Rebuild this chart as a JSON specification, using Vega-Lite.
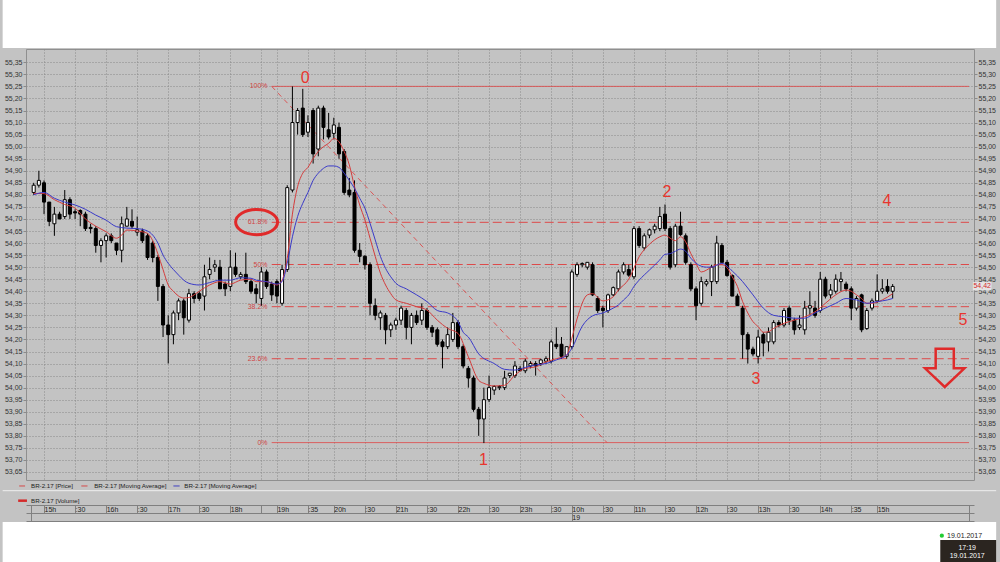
{
"$schema": "https://vega.github.io/schema/vega-lite/v6.json",
"width": 948, "height": 431,
"padding": {"left": 26, "top": 49, "right": 26, "bottom": 82},
"autosize": {"type": "none"},
"background": "#c3c3c3",
"config": {"view": {"stroke": "#8f8f8f", "strokeWidth": 1}, "text": {"font": "Liberation Sans"}, "axis": {"labelFont": "Liberation Sans", "title": null}},
"resolve": {"axis": {"x": "independent", "y": "independent"}},
"datasets": {
"candles": [
{"i":0,"o":54.81,"h":54.85,"l":54.80,"c":54.84},{"i":1,"o":54.84,"h":54.90,"l":54.83,"c":54.86},{"i":2,"o":54.85,"h":54.86,"l":54.72,"c":54.77},{"i":3,"o":54.77,"h":54.77,"l":54.67,"c":54.69},{"i":4,"o":54.68,"h":54.75,"l":54.63,"c":54.72},{"i":5,"o":54.72,"h":54.73,"l":54.70,"c":54.70},{"i":6,"o":54.71,"h":54.82,"l":54.70,"c":54.78},{"i":7,"o":54.78,"h":54.79,"l":54.70,"c":54.72},{"i":8,"o":54.73,"h":54.74,"l":54.70,"c":54.725},{"i":9,"o":54.735,"h":54.74,"l":54.67,"c":54.72},
{"i":10,"o":54.72,"h":54.73,"l":54.65,"c":54.66},{"i":11,"o":54.665,"h":54.68,"l":54.64,"c":54.66},{"i":12,"o":54.66,"h":54.67,"l":54.56,"c":54.59},{"i":13,"o":54.59,"h":54.62,"l":54.52,"c":54.61},{"i":14,"o":54.61,"h":54.64,"l":54.54,"c":54.63},{"i":15,"o":54.63,"h":54.64,"l":54.60,"c":54.61},{"i":16,"o":54.60,"h":54.60,"l":54.55,"c":54.57},{"i":17,"o":54.57,"h":54.71,"l":54.52,"c":54.68},{"i":18,"o":54.67,"h":54.75,"l":54.67,"c":54.70},{"i":19,"o":54.69,"h":54.74,"l":54.66,"c":54.67},
{"i":20,"o":54.645,"h":54.71,"l":54.63,"c":54.655},{"i":21,"o":54.65,"h":54.66,"l":54.60,"c":54.61},{"i":22,"o":54.63,"h":54.64,"l":54.53,"c":54.54},{"i":23,"o":54.60,"h":54.61,"l":54.52,"c":54.54},{"i":24,"o":54.54,"h":54.55,"l":54.36,"c":54.42},{"i":25,"o":54.42,"h":54.43,"l":54.21,"c":54.26},{"i":26,"o":54.26,"h":54.30,"l":54.10,"c":54.22},{"i":27,"o":54.22,"h":54.32,"l":54.18,"c":54.31},{"i":28,"o":54.31,"h":54.37,"l":54.28,"c":54.36},{"i":29,"o":54.36,"h":54.37,"l":54.22,"c":54.29},
{"i":30,"o":54.28,"h":54.41,"l":54.27,"c":54.39},{"i":31,"o":54.39,"h":54.40,"l":54.35,"c":54.37},{"i":32,"o":54.39,"h":54.40,"l":54.36,"c":54.37},{"i":33,"o":54.38,"h":54.51,"l":54.32,"c":54.46},{"i":34,"o":54.47,"h":54.54,"l":54.45,"c":54.49},{"i":35,"o":54.50,"h":54.53,"l":54.48,"c":54.51},{"i":36,"o":54.50,"h":54.53,"l":54.41,"c":54.41},{"i":37,"o":54.43,"h":54.44,"l":54.38,"c":54.41},{"i":38,"o":54.42,"h":54.57,"l":54.40,"c":54.50},{"i":39,"o":54.50,"h":54.56,"l":54.46,"c":54.47},
{"i":40,"o":54.46,"h":54.48,"l":54.45,"c":54.47},{"i":41,"o":54.47,"h":54.56,"l":54.43,"c":54.44},{"i":42,"o":54.44,"h":54.45,"l":54.39,"c":54.40},{"i":43,"o":54.41,"h":54.43,"l":54.35,"c":54.39},{"i":44,"o":54.37,"h":54.50,"l":54.34,"c":54.48},{"i":45,"o":54.48,"h":54.49,"l":54.41,"c":54.42},{"i":46,"o":54.43,"h":54.44,"l":54.36,"c":54.385},{"i":47,"o":54.44,"h":54.45,"l":54.35,"c":54.38},{"i":48,"o":54.35,"h":54.51,"l":54.34,"c":54.49},{"i":49,"o":54.49,"h":54.84,"l":54.48,"c":54.83},
{"i":50,"o":54.82,"h":55.25,"l":54.81,"c":55.10},{"i":51,"o":55.10,"h":55.16,"l":55.05,"c":55.15},{"i":52,"o":55.16,"h":55.24,"l":55.04,"c":55.05},{"i":53,"o":55.06,"h":55.13,"l":55.04,"c":55.10},{"i":54,"o":55.15,"h":55.16,"l":54.93,"c":54.97},{"i":55,"o":54.99,"h":55.17,"l":54.96,"c":55.16},{"i":56,"o":55.16,"h":55.17,"l":55.03,"c":55.08},{"i":57,"o":55.07,"h":55.14,"l":55.03,"c":55.04},{"i":58,"o":55.055,"h":55.12,"l":55.03,"c":55.09},{"i":59,"o":55.08,"h":55.10,"l":54.95,"c":54.97},
{"i":60,"o":54.98,"h":54.99,"l":54.80,"c":54.81},{"i":61,"o":54.82,"h":54.87,"l":54.79,"c":54.80},{"i":62,"o":54.81,"h":54.86,"l":54.56,"c":54.57},{"i":63,"o":54.57,"h":54.60,"l":54.52,"c":54.545},{"i":64,"o":54.545,"h":54.55,"l":54.49,"c":54.51},{"i":65,"o":54.51,"h":54.52,"l":54.30,"c":54.35},{"i":66,"o":54.34,"h":54.37,"l":54.28,"c":54.30},{"i":67,"o":54.29,"h":54.32,"l":54.24,"c":54.31},{"i":68,"o":54.30,"h":54.31,"l":54.18,"c":54.24},{"i":69,"o":54.24,"h":54.27,"l":54.21,"c":54.26},
{"i":70,"o":54.26,"h":54.29,"l":54.24,"c":54.28},{"i":71,"o":54.28,"h":54.34,"l":54.26,"c":54.33},{"i":72,"o":54.32,"h":54.33,"l":54.20,"c":54.25},{"i":73,"o":54.25,"h":54.31,"l":54.18,"c":54.30},{"i":74,"o":54.30,"h":54.32,"l":54.26,"c":54.27},{"i":75,"o":54.28,"h":54.35,"l":54.26,"c":54.32},{"i":76,"o":54.32,"h":54.33,"l":54.24,"c":54.25},{"i":77,"o":54.25,"h":54.26,"l":54.21,"c":54.23},{"i":78,"o":54.24,"h":54.25,"l":54.17,"c":54.18},{"i":79,"o":54.19,"h":54.20,"l":54.08,"c":54.17},
{"i":80,"o":54.17,"h":54.25,"l":54.16,"c":54.22},{"i":81,"o":54.20,"h":54.31,"l":54.19,"c":54.27},{"i":82,"o":54.27,"h":54.28,"l":54.16,"c":54.17},{"i":83,"o":54.17,"h":54.18,"l":54.08,"c":54.09},{"i":84,"o":54.08,"h":54.09,"l":54.00,"c":54.04},{"i":85,"o":54.04,"h":54.05,"l":53.90,"c":53.91},{"i":86,"o":53.91,"h":53.92,"l":53.80,"c":53.87},{"i":87,"o":53.87,"h":54.00,"l":53.77,"c":53.95},{"i":88,"o":53.95,"h":54.05,"l":53.94,"c":54.00},{"i":89,"o":53.99,"h":54.01,"l":53.97,"c":54.005},
{"i":90,"o":54.00,"h":54.01,"l":53.99,"c":54.005},{"i":91,"o":54.00,"h":54.07,"l":53.99,"c":54.04},{"i":92,"o":54.05,"h":54.06,"l":54.04,"c":54.06},{"i":93,"o":54.05,"h":54.11,"l":54.04,"c":54.09},{"i":94,"o":54.08,"h":54.09,"l":54.07,"c":54.07},{"i":95,"o":54.07,"h":54.12,"l":54.06,"c":54.11},{"i":96,"o":54.09,"h":54.11,"l":54.08,"c":54.10},{"i":97,"o":54.10,"h":54.11,"l":54.05,"c":54.09},{"i":98,"o":54.10,"h":54.12,"l":54.09,"c":54.115},{"i":99,"o":54.11,"h":54.13,"l":54.10,"c":54.12},
{"i":100,"o":54.11,"h":54.20,"l":54.10,"c":54.19},{"i":101,"o":54.18,"h":54.25,"l":54.16,"c":54.17},{"i":102,"o":54.18,"h":54.21,"l":54.12,"c":54.13},{"i":103,"o":54.13,"h":54.17,"l":54.12,"c":54.17},{"i":104,"o":54.17,"h":54.49,"l":54.16,"c":54.48},{"i":105,"o":54.47,"h":54.52,"l":54.46,"c":54.51},{"i":106,"o":54.51,"h":54.52,"l":54.50,"c":54.515},{"i":107,"o":54.50,"h":54.52,"l":54.49,"c":54.52},{"i":108,"o":54.51,"h":54.52,"l":54.38,"c":54.385},{"i":109,"o":54.37,"h":54.38,"l":54.31,"c":54.32},
{"i":110,"o":54.33,"h":54.34,"l":54.25,"c":54.32},{"i":111,"o":54.32,"h":54.39,"l":54.31,"c":54.385},{"i":112,"o":54.385,"h":54.42,"l":54.38,"c":54.415},{"i":113,"o":54.41,"h":54.49,"l":54.40,"c":54.48},{"i":114,"o":54.48,"h":54.52,"l":54.47,"c":54.51},{"i":115,"o":54.49,"h":54.51,"l":54.46,"c":54.467},{"i":116,"o":54.46,"h":54.67,"l":54.45,"c":54.66},{"i":117,"o":54.66,"h":54.67,"l":54.58,"c":54.59},{"i":118,"o":54.58,"h":54.64,"l":54.57,"c":54.63},{"i":119,"o":54.633,"h":54.66,"l":54.62,"c":54.655},
{"i":120,"o":54.655,"h":54.68,"l":54.64,"c":54.67},{"i":121,"o":54.66,"h":54.75,"l":54.65,"c":54.71},{"i":122,"o":54.72,"h":54.76,"l":54.65,"c":54.66},{"i":123,"o":54.66,"h":54.67,"l":54.49,"c":54.50},{"i":124,"o":54.51,"h":54.68,"l":54.50,"c":54.67},{"i":125,"o":54.67,"h":54.73,"l":54.63,"c":54.635},{"i":126,"o":54.63,"h":54.64,"l":54.51,"c":54.52},{"i":127,"o":54.51,"h":54.52,"l":54.40,"c":54.41},{"i":128,"o":54.41,"h":54.42,"l":54.28,"c":54.34},{"i":129,"o":54.35,"h":54.46,"l":54.34,"c":54.44},
{"i":130,"o":54.43,"h":54.45,"l":54.42,"c":54.44},{"i":131,"o":54.44,"h":54.51,"l":54.38,"c":54.50},{"i":132,"o":54.44,"h":54.63,"l":54.43,"c":54.60},{"i":133,"o":54.59,"h":54.60,"l":54.52,"c":54.52},{"i":134,"o":54.52,"h":54.53,"l":54.46,"c":54.465},{"i":135,"o":54.465,"h":54.47,"l":54.38,"c":54.38},{"i":136,"o":54.38,"h":54.39,"l":54.34,"c":54.34},{"i":137,"o":54.33,"h":54.34,"l":54.12,"c":54.22},{"i":138,"o":54.22,"h":54.23,"l":54.10,"c":54.16},{"i":139,"o":54.16,"h":54.17,"l":54.13,"c":54.14},
{"i":140,"o":54.13,"h":54.24,"l":54.10,"c":54.21},{"i":141,"o":54.22,"h":54.23,"l":54.13,"c":54.185},{"i":142,"o":54.19,"h":54.25,"l":54.15,"c":54.23},{"i":143,"o":54.19,"h":54.28,"l":54.18,"c":54.27},{"i":144,"o":54.27,"h":54.28,"l":54.25,"c":54.26},{"i":145,"o":54.26,"h":54.33,"l":54.25,"c":54.32},{"i":146,"o":54.33,"h":54.34,"l":54.26,"c":54.28},{"i":147,"o":54.28,"h":54.29,"l":54.22,"c":54.24},{"i":148,"o":54.25,"h":54.30,"l":54.24,"c":54.26},{"i":149,"o":54.24,"h":54.36,"l":54.22,"c":54.33},
{"i":150,"o":54.33,"h":54.40,"l":54.30,"c":54.34},{"i":151,"o":54.33,"h":54.36,"l":54.29,"c":54.30},{"i":152,"o":54.32,"h":54.48,"l":54.31,"c":54.45},{"i":153,"o":54.45,"h":54.46,"l":54.37,"c":54.38},{"i":154,"o":54.385,"h":54.43,"l":54.37,"c":54.405},{"i":155,"o":54.40,"h":54.47,"l":54.39,"c":54.45},{"i":156,"o":54.44,"h":54.48,"l":54.40,"c":54.45},{"i":157,"o":54.43,"h":54.44,"l":54.40,"c":54.41},{"i":158,"o":54.41,"h":54.42,"l":54.28,"c":54.33},{"i":159,"o":54.33,"h":54.38,"l":54.32,"c":54.37},
{"i":160,"o":54.385,"h":54.39,"l":54.23,"c":54.24},{"i":161,"o":54.245,"h":54.33,"l":54.24,"c":54.32},{"i":162,"o":54.33,"h":54.37,"l":54.32,"c":54.36},{"i":163,"o":54.36,"h":54.47,"l":54.35,"c":54.40},{"i":164,"o":54.40,"h":54.45,"l":54.39,"c":54.41},{"i":165,"o":54.42,"h":54.45,"l":54.39,"c":54.40},{"i":166,"o":54.40,"h":54.43,"l":54.37,"c":54.42}
],
"ma": [
{"s":"fast","i":0,"v":54.806},{"s":"fast","i":2,"v":54.805},{"s":"fast","i":4,"v":54.78},{"s":"fast","i":6,"v":54.76},{"s":"fast","i":8,"v":54.745},{"s":"fast","i":10,"v":54.70},{"s":"fast","i":12,"v":54.67},{"s":"fast","i":14,"v":54.647},{"s":"fast","i":16,"v":54.62},{"s":"fast","i":17,"v":54.633},{"s":"fast","i":18,"v":54.654},{"s":"fast","i":20,"v":54.65},{"s":"fast","i":22,"v":54.64},{"s":"fast","i":23,"v":54.61},{"s":"fast","i":24,"v":54.555},{"s":"fast","i":25,"v":54.49},{"s":"fast","i":26,"v":54.426},{"s":"fast","i":27,"v":54.40},{"s":"fast","i":28,"v":54.38},{"s":"fast","i":29,"v":54.372},{"s":"fast","i":30,"v":54.374},{"s":"fast","i":31,"v":54.385},{"s":"fast","i":32,"v":54.40},{"s":"fast","i":34,"v":54.426},{"s":"fast","i":36,"v":54.44},{"s":"fast","i":38,"v":54.43},{"s":"fast","i":40,"v":54.446},{"s":"fast","i":42,"v":54.45},{"s":"fast","i":43,"v":54.44},{"s":"fast","i":45,"v":54.44},{"s":"fast","i":47,"v":54.426},{"s":"fast","i":48,"v":54.446},{"s":"fast","i":49,"v":54.537},{"s":"fast","i":50,"v":54.72},{"s":"fast","i":51,"v":54.834},{"s":"fast","i":52,"v":54.89},{"s":"fast","i":53,"v":54.914},{"s":"fast","i":54,"v":54.95},{"s":"fast","i":55,"v":54.98},{"s":"fast","i":56,"v":55.0},{"s":"fast","i":57,"v":55.014},{"s":"fast","i":58,"v":55.034},{"s":"fast","i":59,"v":55.02},{"s":"fast","i":60,"v":54.98},{"s":"fast","i":61,"v":54.924},{"s":"fast","i":62,"v":54.834},{"s":"fast","i":63,"v":54.758},{"s":"fast","i":64,"v":54.696},{"s":"fast","i":65,"v":54.62},{"s":"fast","i":66,"v":54.545},{"s":"fast","i":67,"v":54.475},{"s":"fast","i":68,"v":54.426},{"s":"fast","i":69,"v":54.39},{"s":"fast","i":70,"v":54.364},{"s":"fast","i":72,"v":54.35},{"s":"fast","i":74,"v":54.336},{"s":"fast","i":76,"v":54.322},{"s":"fast","i":78,"v":54.28},{"s":"fast","i":80,"v":54.246},{"s":"fast","i":82,"v":54.225},{"s":"fast","i":84,"v":54.128},{"s":"fast","i":86,"v":54.03},{"s":"fast","i":87,"v":54.018},{"s":"fast","i":89,"v":54.007},{"s":"fast","i":91,"v":54.01},{"s":"fast","i":93,"v":54.052},{"s":"fast","i":95,"v":54.08},{"s":"fast","i":97,"v":54.086},{"s":"fast","i":99,"v":54.107},{"s":"fast","i":101,"v":54.12},{"s":"fast","i":103,"v":54.135},{"s":"fast","i":104,"v":54.205},{"s":"fast","i":105,"v":54.285},{"s":"fast","i":107,"v":54.385},{"s":"fast","i":108,"v":54.39},{"s":"fast","i":110,"v":54.36},{"s":"fast","i":112,"v":54.377},{"s":"fast","i":113,"v":54.405},{"s":"fast","i":115,"v":54.45},{"s":"fast","i":117,"v":54.543},{"s":"fast","i":119,"v":54.595},{"s":"fast","i":121,"v":54.626},{"s":"fast","i":122,"v":54.633},{"s":"fast","i":123,"v":54.62},{"s":"fast","i":124,"v":54.61},{"s":"fast","i":125,"v":54.626},{"s":"fast","i":126,"v":54.605},{"s":"fast","i":127,"v":54.556},{"s":"fast","i":128,"v":54.516},{"s":"fast","i":129,"v":54.48},{"s":"fast","i":131,"v":54.50},{"s":"fast","i":132,"v":54.51},{"s":"fast","i":133,"v":54.51},{"s":"fast","i":134,"v":54.498},{"s":"fast","i":135,"v":54.46},{"s":"fast","i":136,"v":54.42},{"s":"fast","i":137,"v":54.357},{"s":"fast","i":138,"v":54.31},{"s":"fast","i":139,"v":54.274},{"s":"fast","i":140,"v":54.253},{"s":"fast","i":141,"v":54.23},{"s":"fast","i":142,"v":54.232},{"s":"fast","i":143,"v":54.246},{"s":"fast","i":145,"v":54.267},{"s":"fast","i":147,"v":54.28},{"s":"fast","i":149,"v":54.294},{"s":"fast","i":151,"v":54.315},{"s":"fast","i":153,"v":54.35},{"s":"fast","i":155,"v":54.385},{"s":"fast","i":157,"v":54.405},{"s":"fast","i":158,"v":54.40},{"s":"fast","i":159,"v":54.385},{"s":"fast","i":160,"v":54.37},{"s":"fast","i":161,"v":54.35},{"s":"fast","i":162,"v":54.35},{"s":"fast","i":164,"v":54.364},{"s":"fast","i":166,"v":54.39},
{"s":"slow","i":0,"v":54.80},{"s":"slow","i":2,"v":54.81},{"s":"slow","i":4,"v":54.786},{"s":"slow","i":6,"v":54.77},{"s":"slow","i":8,"v":54.758},{"s":"slow","i":10,"v":54.74},{"s":"slow","i":12,"v":54.716},{"s":"slow","i":14,"v":54.695},{"s":"slow","i":16,"v":54.668},{"s":"slow","i":18,"v":54.662},{"s":"slow","i":20,"v":54.66},{"s":"slow","i":22,"v":54.65},{"s":"slow","i":23,"v":54.633},{"s":"slow","i":24,"v":54.60},{"s":"slow","i":25,"v":54.55},{"s":"slow","i":26,"v":54.516},{"s":"slow","i":27,"v":54.49},{"s":"slow","i":28,"v":54.467},{"s":"slow","i":29,"v":54.446},{"s":"slow","i":30,"v":54.433},{"s":"slow","i":32,"v":54.426},{"s":"slow","i":34,"v":54.436},{"s":"slow","i":36,"v":54.446},{"s":"slow","i":38,"v":54.446},{"s":"slow","i":40,"v":54.456},{"s":"slow","i":42,"v":54.454},{"s":"slow","i":43,"v":54.446},{"s":"slow","i":45,"v":54.44},{"s":"slow","i":47,"v":54.43},{"s":"slow","i":48,"v":54.44},{"s":"slow","i":49,"v":54.516},{"s":"slow","i":50,"v":54.626},{"s":"slow","i":51,"v":54.71},{"s":"slow","i":52,"v":54.765},{"s":"slow","i":53,"v":54.81},{"s":"slow","i":54,"v":54.86},{"s":"slow","i":55,"v":54.89},{"s":"slow","i":56,"v":54.91},{"s":"slow","i":57,"v":54.92},{"s":"slow","i":58,"v":54.92},{"s":"slow","i":59,"v":54.914},{"s":"slow","i":60,"v":54.89},{"s":"slow","i":61,"v":54.86},{"s":"slow","i":62,"v":54.827},{"s":"slow","i":63,"v":54.786},{"s":"slow","i":64,"v":54.745},{"s":"slow","i":65,"v":54.682},{"s":"slow","i":66,"v":54.613},{"s":"slow","i":67,"v":54.545},{"s":"slow","i":68,"v":54.495},{"s":"slow","i":69,"v":54.46},{"s":"slow","i":70,"v":54.433},{"s":"slow","i":72,"v":54.41},{"s":"slow","i":74,"v":54.385},{"s":"slow","i":76,"v":54.357},{"s":"slow","i":78,"v":54.32},{"s":"slow","i":80,"v":54.31},{"s":"slow","i":82,"v":54.274},{"s":"slow","i":83,"v":54.23},{"s":"slow","i":84,"v":54.21},{"s":"slow","i":86,"v":54.14},{"s":"slow","i":89,"v":54.10},{"s":"slow","i":91,"v":54.076},{"s":"slow","i":93,"v":54.073},{"s":"slow","i":95,"v":54.084},{"s":"slow","i":97,"v":54.094},{"s":"slow","i":99,"v":54.10},{"s":"slow","i":101,"v":54.115},{"s":"slow","i":103,"v":54.135},{"s":"slow","i":104,"v":54.163},{"s":"slow","i":106,"v":54.255},{"s":"slow","i":108,"v":54.298},{"s":"slow","i":110,"v":54.31},{"s":"slow","i":112,"v":54.33},{"s":"slow","i":113,"v":54.343},{"s":"slow","i":114,"v":54.364},{"s":"slow","i":115,"v":54.385},{"s":"slow","i":116,"v":54.42},{"s":"slow","i":117,"v":54.446},{"s":"slow","i":119,"v":54.488},{"s":"slow","i":121,"v":54.53},{"s":"slow","i":122,"v":54.553},{"s":"slow","i":123,"v":54.556},{"s":"slow","i":124,"v":54.566},{"s":"slow","i":125,"v":54.575},{"s":"slow","i":126,"v":54.566},{"s":"slow","i":127,"v":54.537},{"s":"slow","i":128,"v":54.516},{"s":"slow","i":130,"v":54.50},{"s":"slow","i":131,"v":54.50},{"s":"slow","i":133,"v":54.516},{"s":"slow","i":135,"v":54.484},{"s":"slow","i":137,"v":54.44},{"s":"slow","i":139,"v":54.385},{"s":"slow","i":141,"v":54.33},{"s":"slow","i":143,"v":54.30},{"s":"slow","i":145,"v":54.294},{"s":"slow","i":147,"v":54.288},{"s":"slow","i":149,"v":54.288},{"s":"slow","i":151,"v":54.31},{"s":"slow","i":153,"v":54.33},{"s":"slow","i":155,"v":54.35},{"s":"slow","i":157,"v":54.37},{"s":"slow","i":159,"v":54.364},{"s":"slow","i":161,"v":54.35},{"s":"slow","i":163,"v":54.357},{"s":"slow","i":165,"v":54.364},{"s":"slow","i":166,"v":54.37}
],
"fib": [
{"lvl":"100%","p":55.25},{"lvl":"61.8%","p":54.686},{"lvl":"50%","p":54.511},{"lvl":"38.2%","p":54.336},{"lvl":"23.6%","p":54.12},{"lvl":"0%","p":53.772}
],
"diag": [{"i":46,"p":55.25},{"i":110.8,"p":53.772}],
"notes": [
{"t":"0","i":52.45,"p":55.285},{"t":"1","i":86.9,"p":53.698},{"t":"2","i":122.4,"p":54.812},{"t":"3","i":139.6,"p":54.036},{"t":"4","i":164.9,"p":54.774},{"t":"5","i":179.6,"p":54.279}
],
"one": [{}]
},
"layer": [
{"data": {"name": "one"}, "mark": {"type": "rect", "fill": "white"},
 "encoding": {"x": {"datum": -6, "type": "quantitative", "scale": {"domain": [-0.52, 180.75], "nice": false, "zero": false}, "axis": null}, "x2": {"datum": 186}, "y": {"datum": 55.409, "type": "quantitative", "scale": {"domain": [53.6168, 55.4052], "nice": false, "zero": false}, "axis": null}, "y2": {"datum": 55.62}}},
{"data": {"name": "one"}, "mark": {"type": "rect", "fill": "white"},
 "encoding": {"x": {"datum": -6, "type": "quantitative", "axis": null}, "x2": {"datum": 186}, "y": {"datum": 53.4425, "type": "quantitative", "axis": null}, "y2": {"datum": 53.27}}},
{"data": {"name": "one"}, "mark": {"type": "rule", "stroke": "#eeeeee", "strokeWidth": 1},
 "encoding": {"x": {"datum": -6, "type": "quantitative", "axis": null}, "x2": {"datum": 186}, "y": {"datum": 53.5724, "type": "quantitative", "axis": null}}},
{"data": {"name": "fib"}, "mark": {"type": "rule", "stroke": "#dd4a4a", "strokeWidth": 1},
 "encoding": {"x": {"datum": 46, "type": "quantitative", "axis": null}, "x2": {"datum": 180.75}, "y": {"field": "p", "type": "quantitative", "axis": null},
  "strokeDash": {"condition": {"test": "datum.lvl == '100%' || datum.lvl == '0%'", "value": [1, 0]}, "value": [9, 4]}}},
{"data": {"name": "fib"}, "mark": {"type": "text", "align": "right", "baseline": "middle", "fontSize": 7, "color": "#d04444"},
 "encoding": {"x": {"datum": 45.2, "type": "quantitative", "axis": null}, "y": {"field": "p", "type": "quantitative", "axis": null}, "text": {"field": "lvl"}}},
{"data": {"name": "diag"}, "mark": {"type": "line", "stroke": "#dd4a4a", "strokeWidth": 0.9, "strokeDash": [5, 4]},
 "encoding": {"x": {"field": "i", "type": "quantitative", "axis": null}, "y": {"field": "p", "type": "quantitative", "axis": null}}},
{"data": {"name": "candles"}, "mark": {"type": "rule", "stroke": "black", "strokeWidth": 1},
 "encoding": {
  "x": {"field": "i", "type": "quantitative", "axis": {"orient": "bottom", "offset": 0, "values": [2,8,14,20,26,32,38,44,47,53,58,64,70,76,82,88,94,100,104,110,116,122,128,134,140,146,152,158,163], "grid": true, "gridColor": "#888888", "gridDash": [1, 2], "gridWidth": 1, "labels": false, "ticks": false, "domain": false}},
  "y": {"field": "l", "type": "quantitative", "axis": {"orient": "left", "values": [53.65,53.7,53.75,53.8,53.85,53.9,53.95,54,54.05,54.1,54.15,54.2,54.25,54.3,54.35,54.4,54.45,54.5,54.55,54.6,54.65,54.7,54.75,54.8,54.85,54.9,54.95,55,55.05,55.1,55.15,55.2,55.25,55.3,55.35], "labelExpr": "replace(format(datum.value, '.2f'), '.', ',')", "labelFontSize": 7, "labelColor": "#333333", "labelPadding": 1, "tickSize": 3, "tickColor": "#8a8a8a", "domain": false, "grid": true, "gridColor": "#888888", "gridDash": [1, 2], "gridWidth": 1, "labelOverlap": false, "labelBound": false, "labelFlush": false}},
  "y2": {"field": "h"}}},
{"data": {"name": "candles"}, "mark": {"type": "bar", "width": 3, "stroke": "black", "strokeWidth": 1},
 "encoding": {
  "x": {"field": "i", "type": "quantitative", "axis": {"orient": "bottom", "offset": 25, "values": [-0.52,2,8,14,20,26,32,38,44,47,53,58,64,70,76,82,88,94,100,104,110,116,122,128,134,140,146,152,158,163,180.75], "labelExpr": "['','15h',':30','16h',':30','17h',':30','18h','','19h',':35','20h',':30','21h',':30','22h',':30','23h',':30','10h',':30','11h',':30','12h',':30','13h',':30','14h',':35','15h',''][indexof([-0.52,2,8,14,20,26,32,38,44,47,53,58,64,70,76,82,88,94,100,104,110,116,122,128,134,140,146,152,158,163,180.75], datum.value)]", "labelAlign": "left", "labelBaseline": "middle", "labelDx": 3, "labelPadding": -3.5, "labelFontSize": 7, "labelColor": "#222222", "tickSize": 8, "tickColor": "#808080", "domainColor": "#808080", "grid": false, "labelOverlap": false, "labelBound": false, "labelFlush": false}},
  "y": {"field": "o", "type": "quantitative", "axis": {"orient": "right", "values": [53.65,53.7,53.75,53.8,53.85,53.9,53.95,54,54.05,54.1,54.15,54.2,54.25,54.3,54.35,54.4,54.45,54.5,54.55,54.6,54.65,54.7,54.75,54.8,54.85,54.9,54.95,55,55.05,55.1,55.15,55.2,55.25,55.3,55.35], "labelExpr": "replace(format(datum.value, '.2f'), '.', ',')", "labelFontSize": 7, "labelColor": "#333333", "labelPadding": 1, "tickSize": 3, "tickColor": "#8a8a8a", "domain": false, "grid": false, "labelOverlap": false, "labelBound": false, "labelFlush": false}},
  "y2": {"field": "c"},
  "fill": {"condition": {"test": "datum.c >= datum.o", "value": "white"}, "value": "black"}}},
{"data": {"name": "ma"}, "transform": [{"filter": "datum.s == 'fast'"}], "mark": {"type": "line", "stroke": "#d43c3c", "strokeWidth": 1, "interpolate": "monotone"},
 "encoding": {
  "x": {"field": "i", "type": "quantitative", "axis": {"orient": "bottom", "offset": 33, "values": [-0.52, 104, 180.75], "labelExpr": "datum.value == 104 ? '19' : ''", "labelAlign": "left", "labelBaseline": "middle", "labelDx": 3, "labelPadding": -3.5, "labelFontSize": 7, "labelColor": "#222222", "tickSize": 8, "tickColor": "#808080", "domainColor": "#808080", "grid": false, "labelOverlap": false, "labelBound": false, "labelFlush": false}},
  "y": {"field": "v", "type": "quantitative", "axis": null}}},
{"data": {"name": "ma"}, "transform": [{"filter": "datum.s == 'slow'"}], "mark": {"type": "line", "stroke": "#3a3ac8", "strokeWidth": 1, "interpolate": "monotone"},
 "encoding": {
  "x": {"field": "i", "type": "quantitative", "axis": {"orient": "bottom", "offset": 41, "values": [-0.52, 180.75], "labels": false, "ticks": false, "grid": false, "domainColor": "#808080"}},
  "y": {"field": "v", "type": "quantitative", "axis": null}}},
{"data": {"name": "notes"}, "mark": {"type": "text", "fontSize": 16, "color": "#e8352e", "align": "center", "baseline": "middle"},
 "encoding": {"x": {"field": "i", "type": "quantitative", "axis": null}, "y": {"field": "p", "type": "quantitative", "axis": null}, "text": {"field": "t"}}},
{"data": {"name": "one"}, "mark": {"type": "point", "shape": "M-1,0A1,0.6,0,1,0,1,0A1,0.6,0,1,0,-1,0Z", "size": 1764, "filled": false, "stroke": "#e02a2a", "strokeWidth": 3, "opacity": 1},
 "encoding": {"x": {"datum": 43.08, "type": "quantitative", "axis": null}, "y": {"datum": 54.687, "type": "quantitative", "axis": null}}},
{"data": {"name": "one"}, "mark": {"type": "point", "shape": "M-0.46,-0.97L0.46,-0.97L0.46,0.02L1,0.02L0,0.97L-1,0.02L-0.46,0.02Z", "size": 1552, "filled": false, "stroke": "#e02a2a", "strokeWidth": 2.5, "opacity": 1},
 "encoding": {"x": {"datum": 176.06, "type": "quantitative", "axis": null}, "y": {"datum": 54.082, "type": "quantitative", "axis": null}}},
{"data": {"name": "one"}, "mark": {"type": "rect", "fill": "#e4e4e4"},
 "encoding": {"x": {"datum": 181.5, "type": "quantitative", "axis": null}, "x2": {"datum": 185.1}, "y": {"datum": 54.438, "type": "quantitative", "axis": null}, "y2": {"datum": 54.404}}},
{"data": {"name": "one"}, "mark": {"type": "text", "fontSize": 7, "color": "#d42a2a", "align": "center", "baseline": "middle", "text": "54,42"},
 "encoding": {"x": {"datum": 183.3, "type": "quantitative", "axis": null}, "y": {"datum": 54.421, "type": "quantitative", "axis": null}}},
{"data": {"name": "one"}, "mark": {"type": "rule", "stroke": "#d44a4a", "strokeWidth": 1},
 "encoding": {"x": {"datum": -2.8, "type": "quantitative", "axis": null}, "x2": {"datum": -1.67}, "y": {"datum": 53.592, "type": "quantitative", "axis": null}}},
{"data": {"name": "one"}, "mark": {"type": "rule", "stroke": "#d44a4a", "strokeWidth": 1},
 "encoding": {"x": {"datum": 9.2, "type": "quantitative", "axis": null}, "x2": {"datum": 10.4}, "y": {"datum": 53.592, "type": "quantitative", "axis": null}}},
{"data": {"name": "one"}, "mark": {"type": "rule", "stroke": "#4040c0", "strokeWidth": 1},
 "encoding": {"x": {"datum": 27.0, "type": "quantitative", "axis": null}, "x2": {"datum": 28.2}, "y": {"datum": 53.592, "type": "quantitative", "axis": null}}},
{"data": {"name": "one"}, "mark": {"type": "rule", "stroke": "#d42a2a", "strokeWidth": 2.5},
 "encoding": {"x": {"datum": -3.0, "type": "quantitative", "axis": null}, "x2": {"datum": -1.3}, "y": {"datum": 53.531, "type": "quantitative", "axis": null}}},
{"data": {"name": "one"}, "mark": {"type": "text", "fontSize": 6.2, "color": "#222222", "align": "left", "baseline": "middle", "text": "BR-2.17 [Price]"},
 "encoding": {"x": {"datum": -0.52, "type": "quantitative", "axis": null}, "y": {"datum": 53.592, "type": "quantitative", "axis": null}}},
{"data": {"name": "one"}, "mark": {"type": "text", "fontSize": 6.2, "color": "#222222", "align": "left", "baseline": "middle", "text": "BR-2.17 [Moving Average]"},
 "encoding": {"x": {"datum": 11.7, "type": "quantitative", "axis": null}, "y": {"datum": 53.592, "type": "quantitative", "axis": null}}},
{"data": {"name": "one"}, "mark": {"type": "text", "fontSize": 6.2, "color": "#222222", "align": "left", "baseline": "middle", "text": "BR-2.17 [Moving Average]"},
 "encoding": {"x": {"datum": 29.1, "type": "quantitative", "axis": null}, "y": {"datum": 53.592, "type": "quantitative", "axis": null}}},
{"data": {"name": "one"}, "mark": {"type": "text", "fontSize": 6.2, "color": "#222222", "align": "left", "baseline": "middle", "text": "BR-2.17 [Volume]"},
 "encoding": {"x": {"datum": -0.52, "type": "quantitative", "axis": null}, "y": {"datum": 53.531, "type": "quantitative", "axis": null}}},
{"data": {"name": "one"}, "mark": {"type": "rect", "fill": "#2b2520"},
 "encoding": {"x": {"datum": 175.2, "type": "quantitative", "axis": null}, "x2": {"datum": 186}, "y": {"datum": 53.3678, "type": "quantitative", "axis": null}, "y2": {"datum": 53.27}}},
{"data": {"name": "one"}, "mark": {"type": "point", "filled": true, "fill": "#22cc33", "size": 18, "opacity": 1},
 "encoding": {"x": {"datum": 175.5, "type": "quantitative", "axis": null}, "y": {"datum": 53.3857, "type": "quantitative", "axis": null}}},
{"data": {"name": "one"}, "mark": {"type": "text", "fontSize": 7, "color": "#222222", "align": "left", "baseline": "middle", "text": "19.01.2017"},
 "encoding": {"x": {"datum": 176.5, "type": "quantitative", "axis": null}, "y": {"datum": 53.3857, "type": "quantitative", "axis": null}}},
{"data": {"name": "one"}, "mark": {"type": "text", "fontSize": 7, "color": "white", "align": "center", "baseline": "middle", "text": "17:19"},
 "encoding": {"x": {"datum": 180.4, "type": "quantitative", "axis": null}, "y": {"datum": 53.3359, "type": "quantitative", "axis": null}}},
{"data": {"name": "one"}, "mark": {"type": "text", "fontSize": 7, "color": "white", "align": "center", "baseline": "middle", "text": "19.01.2017"},
 "encoding": {"x": {"datum": 180.4, "type": "quantitative", "axis": null}, "y": {"datum": 53.3015, "type": "quantitative", "axis": null}}}
]
}
